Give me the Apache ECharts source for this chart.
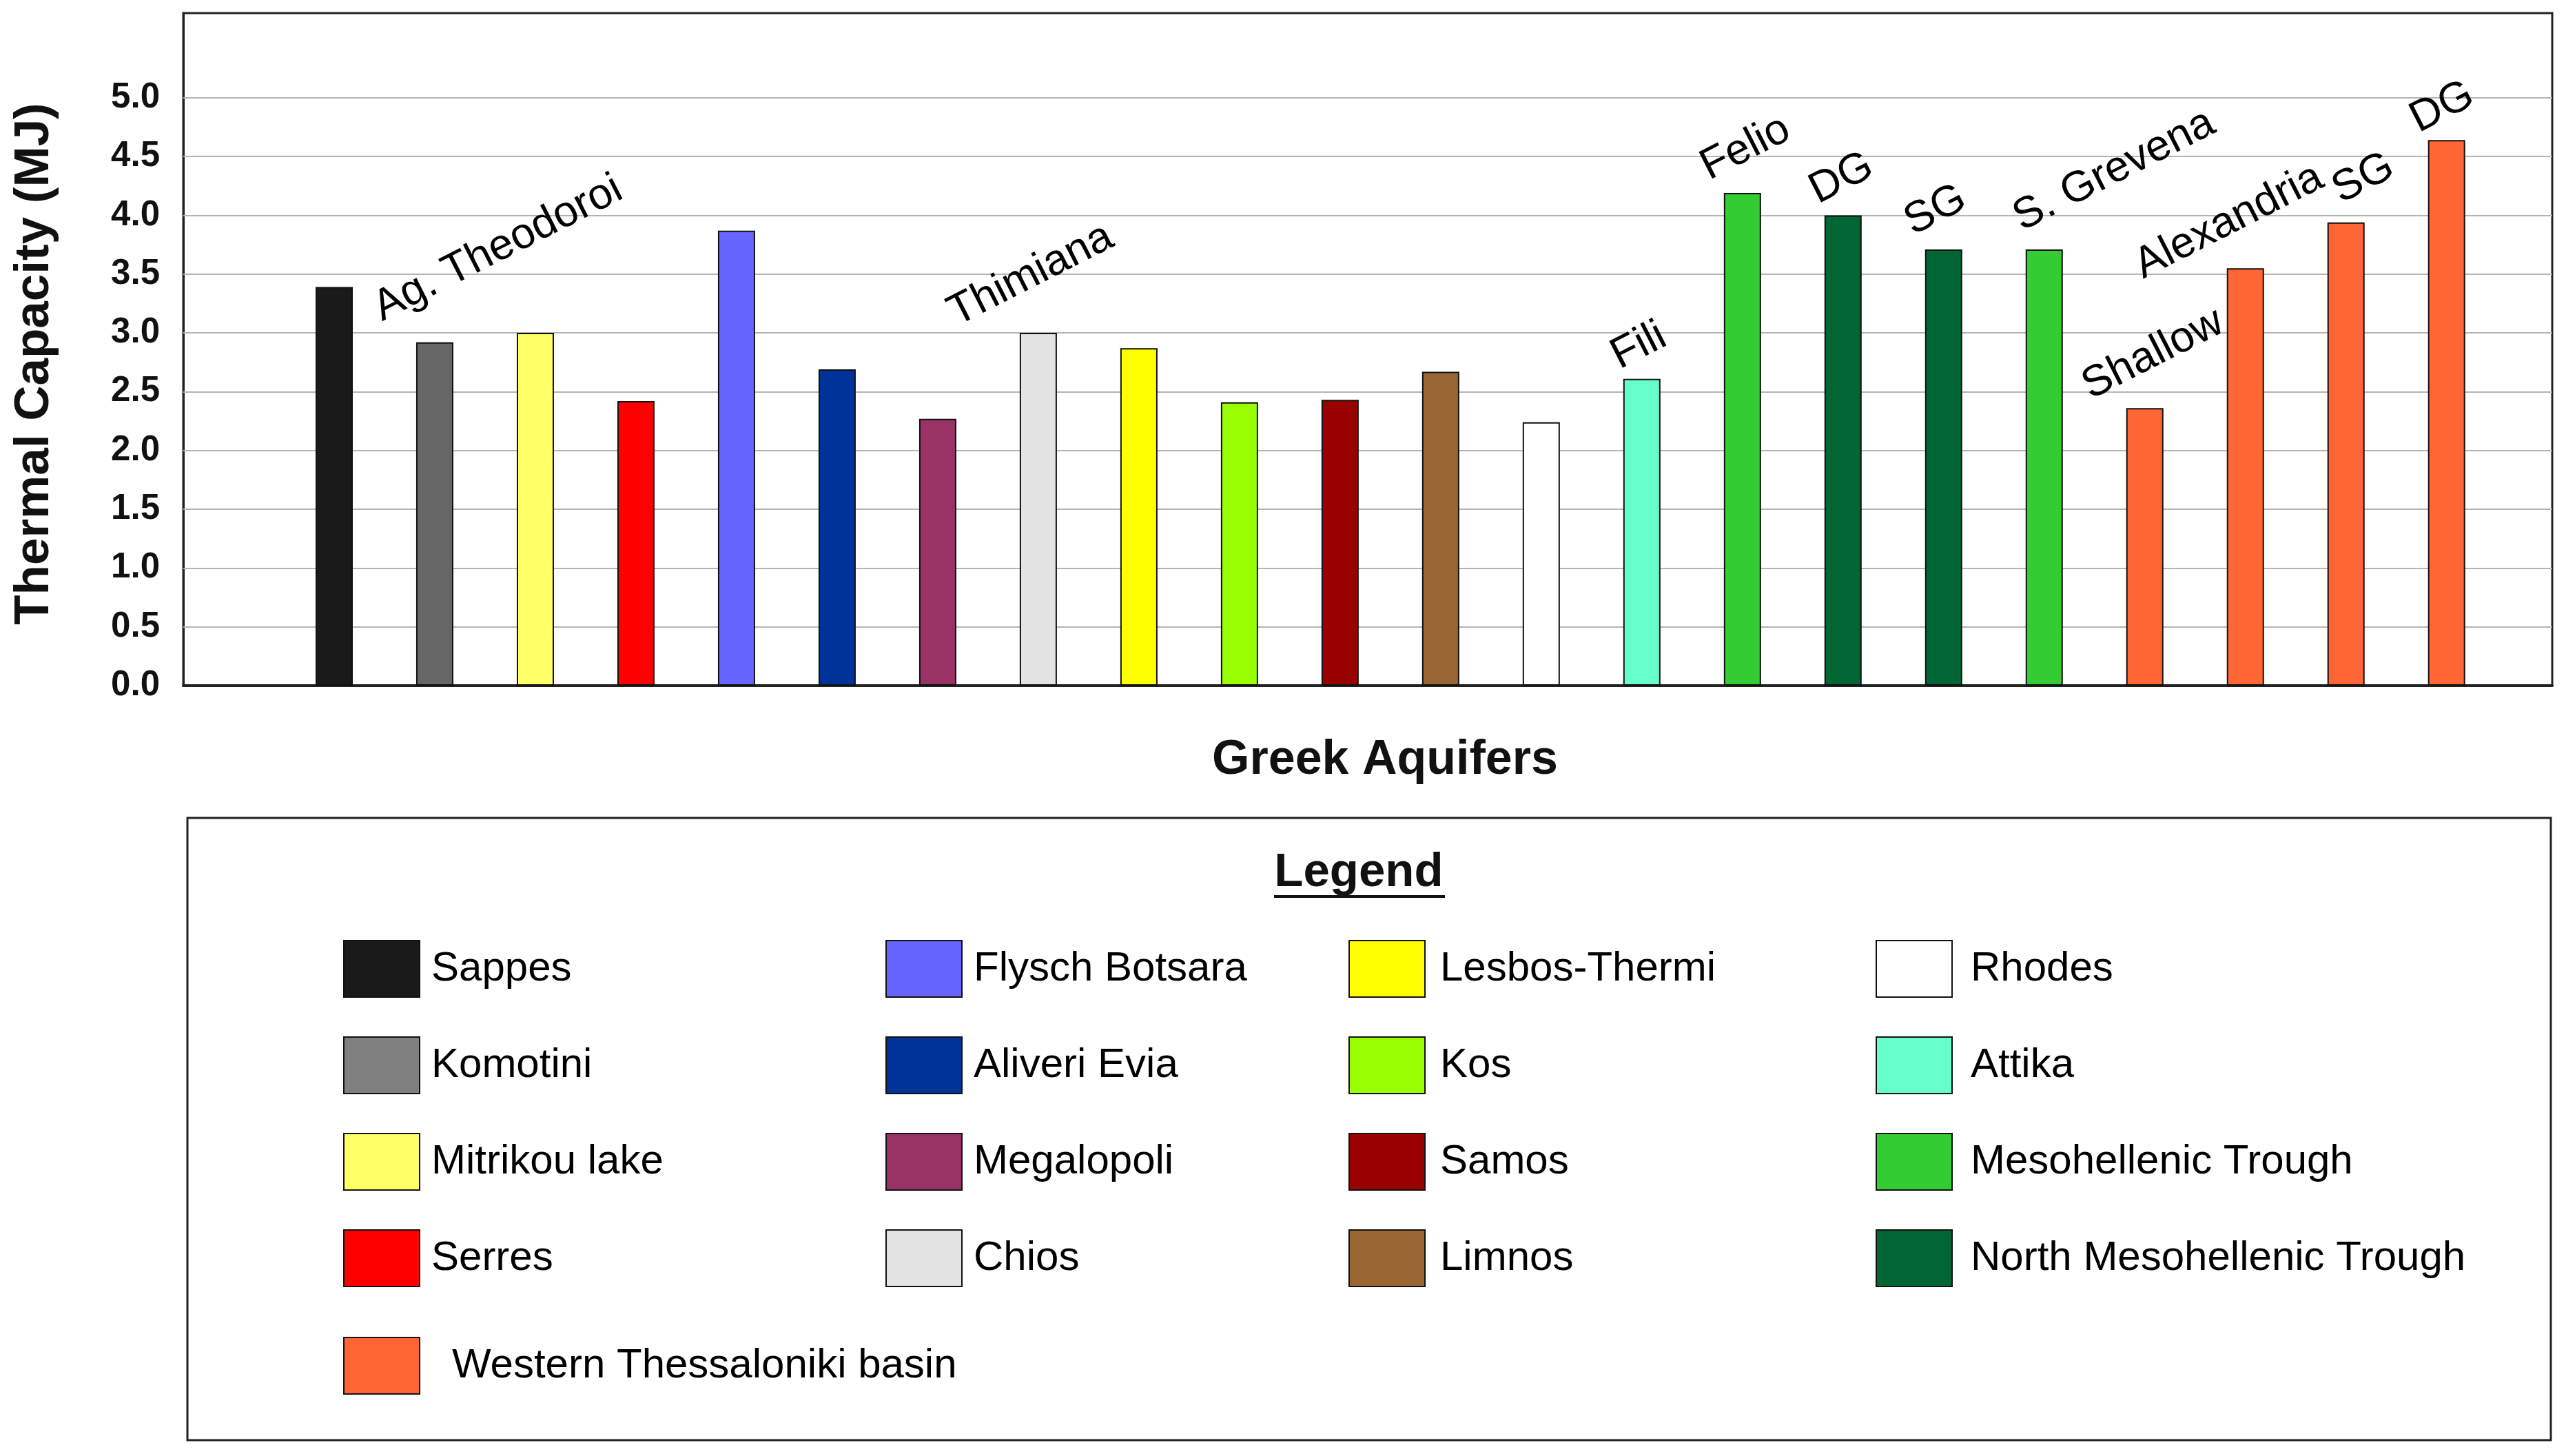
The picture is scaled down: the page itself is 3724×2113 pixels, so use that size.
<!DOCTYPE html>
<html>
<head>
<meta charset="utf-8">
<script src="https://cdn.jsdelivr.net/npm/echarts@6/dist/echarts.min.js"></script>
<style>
  html, body { margin: 0; padding: 0; background: #fff; }
  #chart { width: 3724px; height: 2113px; }
</style>
</head>
<body>
<div id="chart"></div>
<script>
// aquifer groups, in legend order
const aquifers = [
  'Sappes', 'Komotini', 'Mitrikou lake', 'Serres',
  'Flysch Botsara', 'Aliveri Evia', 'Megalopoli', 'Chios',
  'Lesbos-Thermi', 'Kos', 'Samos', 'Limnos',
  'Rhodes', 'Attika', 'Mesohellenic Trough', 'North Mesohellenic Trough',
  'Western Thessaloniki basin',
];
const aquiferColors = [
  '#1a1a1a', '#666666', '#ffff66', '#ff0000',
  '#6666ff', '#003399', '#993366', '#e3e3e3',
  '#ffff00', '#99ff00', '#990000', '#996633',
  '#ffffff', '#66ffcc', '#33cc33', '#006633',
  '#ff6633',
];

// one entry per bar, left to right
const barAquifer = [
  'Sappes', 'Komotini', 'Mitrikou lake', 'Serres', 'Flysch Botsara', 'Aliveri Evia',
  'Megalopoli', 'Chios', 'Lesbos-Thermi', 'Kos', 'Samos', 'Limnos', 'Rhodes', 'Attika',
  'Mesohellenic Trough', 'North Mesohellenic Trough', 'North Mesohellenic Trough', 'Mesohellenic Trough',
  'Western Thessaloniki basin', 'Western Thessaloniki basin', 'Western Thessaloniki basin', 'Western Thessaloniki basin',
];
const capacity = [
  3.39, 2.92, 3.00, 2.42, 3.87, 2.69,
  2.27, 3.00, 2.87, 2.41, 2.43, 2.67, 2.24, 2.61,
  4.19, 4.00, 3.71, 3.71,
  2.36, 3.55, 3.94, 4.64,
];
const siteNotes = [
  '', 'Ag. Theodoroi', '', '', '', '',
  '', 'Thimiana', '', '', '', '', '', 'Fili',
  'Felio', 'DG', 'SG', 'S. Grevena',
  'Shallow', 'Alexandria', 'SG', 'DG',
];
const yTicks = [0, 0.5, 1.0, 1.5, 2.0, 2.5, 3.0, 3.5, 4.0, 4.5, 5.0];

const legendColumns = [
  ['Sappes', 'Komotini', 'Mitrikou lake', 'Serres'],
  ['Flysch Botsara', 'Aliveri Evia', 'Megalopoli', 'Chios'],
  ['Lesbos-Thermi', 'Kos', 'Samos', 'Limnos'],
  ['Rhodes', 'Attika', 'Mesohellenic Trough', 'North Mesohellenic Trough'],
  ['Western Thessaloniki basin'],
];

// placement only: screen offset of each note from its bar's top centre
const noteOffsets = {
  1: [-70, -18], 7: [-112, 3], 13: [-26, -1], 14: [-42, -6], 15: [-30, -4],
  16: [-38, -8], 17: [-26, -14], 18: [-72, 0], 19: [-142, 28], 20: [-1, -15], 21: [-34, 2],
};
const NOTE_ANGLE = 27;
const legendSlots = [
  { left: 498, top: 1364, gap: 12 }, { left: 1285, top: 1364, gap: 12 },
  { left: 1957, top: 1364, gap: 17 }, { left: 2722, top: 1364, gap: 22 },
  { left: 498, top: 1940, gap: 42 },
];

const FONT = '"Liberation Sans", Arial, sans-serif';

// label offsets are applied in the rotated text frame, so turn screen offsets back
function toLabelOffset(off) {
  const a = NOTE_ANGLE * Math.PI / 180;
  const c = Math.cos(a);
  const s = Math.sin(a);
  return [off[0] * c - off[1] * s, off[0] * s + off[1] * c];
}

const chart = echarts.init(document.getElementById('chart'));

const series = aquifers.map((name, g) => {
  const data = [];
  barAquifer.forEach((a, i) => {
    if (a !== name) return;
    const item = { value: [i, capacity[i]] };
    if (siteNotes[i]) {
      item.label = {
        show: true,
        formatter: siteNotes[i],
        position: ['50%', 0],
        offset: toLabelOffset(noteOffsets[i] || [0, 0]),
        rotate: NOTE_ANGLE,
        align: 'left',
        verticalAlign: 'bottom',
        fontFamily: FONT,
        fontSize: 63,
        color: '#000',
      };
    }
    data.push(item);
  });
  const s = {
    name,
    type: 'bar',
    barWidth: 54,
    barGap: '-100%',
    z: 2,
    itemStyle: { color: aquiferColors[g], borderColor: '#111', borderWidth: 2 },
    emphasis: { disabled: true },
    data,
  };
  if (g === 0) {
    s.markLine = {
      silent: true,
      z: 1,
      symbol: 'none',
      animation: false,
      label: { show: false },
      lineStyle: { color: '#b4b4b4', width: 2, type: 'solid' },
      data: yTicks.filter(v => v > 0).map(v => ({ yAxis: v })),
    };
  }
  return s;
});

const legends = legendColumns.map((names, k) => ({
  orient: 'vertical',
  left: legendSlots[k].left,
  top: legendSlots[k].top,
  padding: 0,
  itemWidth: 110,
  itemHeight: 82,
  itemGap: 56,
  icon: 'rect',
  selectedMode: false,
  textStyle: {
    fontFamily: FONT,
    fontSize: 60,
    color: '#000',
    padding: [0, 0, 0, legendSlots[k].gap],
  },
  data: names.map(n => n === 'Komotini'
    ? { name: n, itemStyle: { color: '#808080' } }
    : { name: n }),
}));

chart.setOption({
  animation: false,
  backgroundColor: '#fff',
  grid: {
    left: 266,
    right: 20,
    top: 19,
    bottom: 1118,
    show: true,
    backgroundColor: '#fff',
    borderColor: '#222',
    borderWidth: 3,
  },
  xAxis: {
    type: 'value',
    min: -1.5,
    max: 22.05,
    name: 'Greek Aquifers',
    nameLocation: 'middle',
    nameGap: 74,
    nameTextStyle: {
      fontFamily: FONT, fontSize: 70, fontWeight: 'bold', color: '#111',
      padding: [0, 0, 0, 50],
    },
    axisLine: { show: true, onZero: false, lineStyle: { color: '#222', width: 4 } },
    axisTick: { show: false },
    axisLabel: { show: false },
    splitLine: { show: false },
  },
  yAxis: {
    type: 'value',
    min: 0,
    max: 5.72,
    interval: 0.5,
    name: 'Thermal Capacity (MJ)',
    nameLocation: 'middle',
    nameGap: 180,
    nameTextStyle: {
      fontFamily: FONT, fontSize: 71, fontWeight: 'bold', color: '#111',
      padding: [0, 42, 0, 0],
    },
    axisLine: { show: true, onZero: false, lineStyle: { color: '#222', width: 3 } },
    axisTick: { show: false },
    splitLine: { show: false },
    axisLabel: {
      margin: 34,
      fontFamily: FONT,
      fontSize: 51,
      fontWeight: 'bold',
      color: '#111',
      padding: [0, 0, 14, 0],
      formatter: v => (v <= 5.001 ? v.toFixed(1) : ''),
    },
  },
  legend: legends,
  graphic: [
    {
      type: 'rect',
      shape: { x: 272, y: 1187, width: 3430, height: 903 },
      style: { fill: 'none', stroke: '#222', lineWidth: 3 },
      silent: true,
    },
    {
      type: 'text',
      x: 1972,
      y: 1232,
      style: {
        text: 'Legend',
        fontFamily: FONT,
        fontSize: 69,
        fontWeight: 'bold',
        fill: '#111',
        align: 'center',
        verticalAlign: 'top',
      },
      silent: true,
    },
    {
      type: 'rect',
      shape: { x: 1849, y: 1299, width: 248, height: 4 },
      style: { fill: '#111' },
      silent: true,
    },
  ],
  series,
});
</script>
</body>
</html>
